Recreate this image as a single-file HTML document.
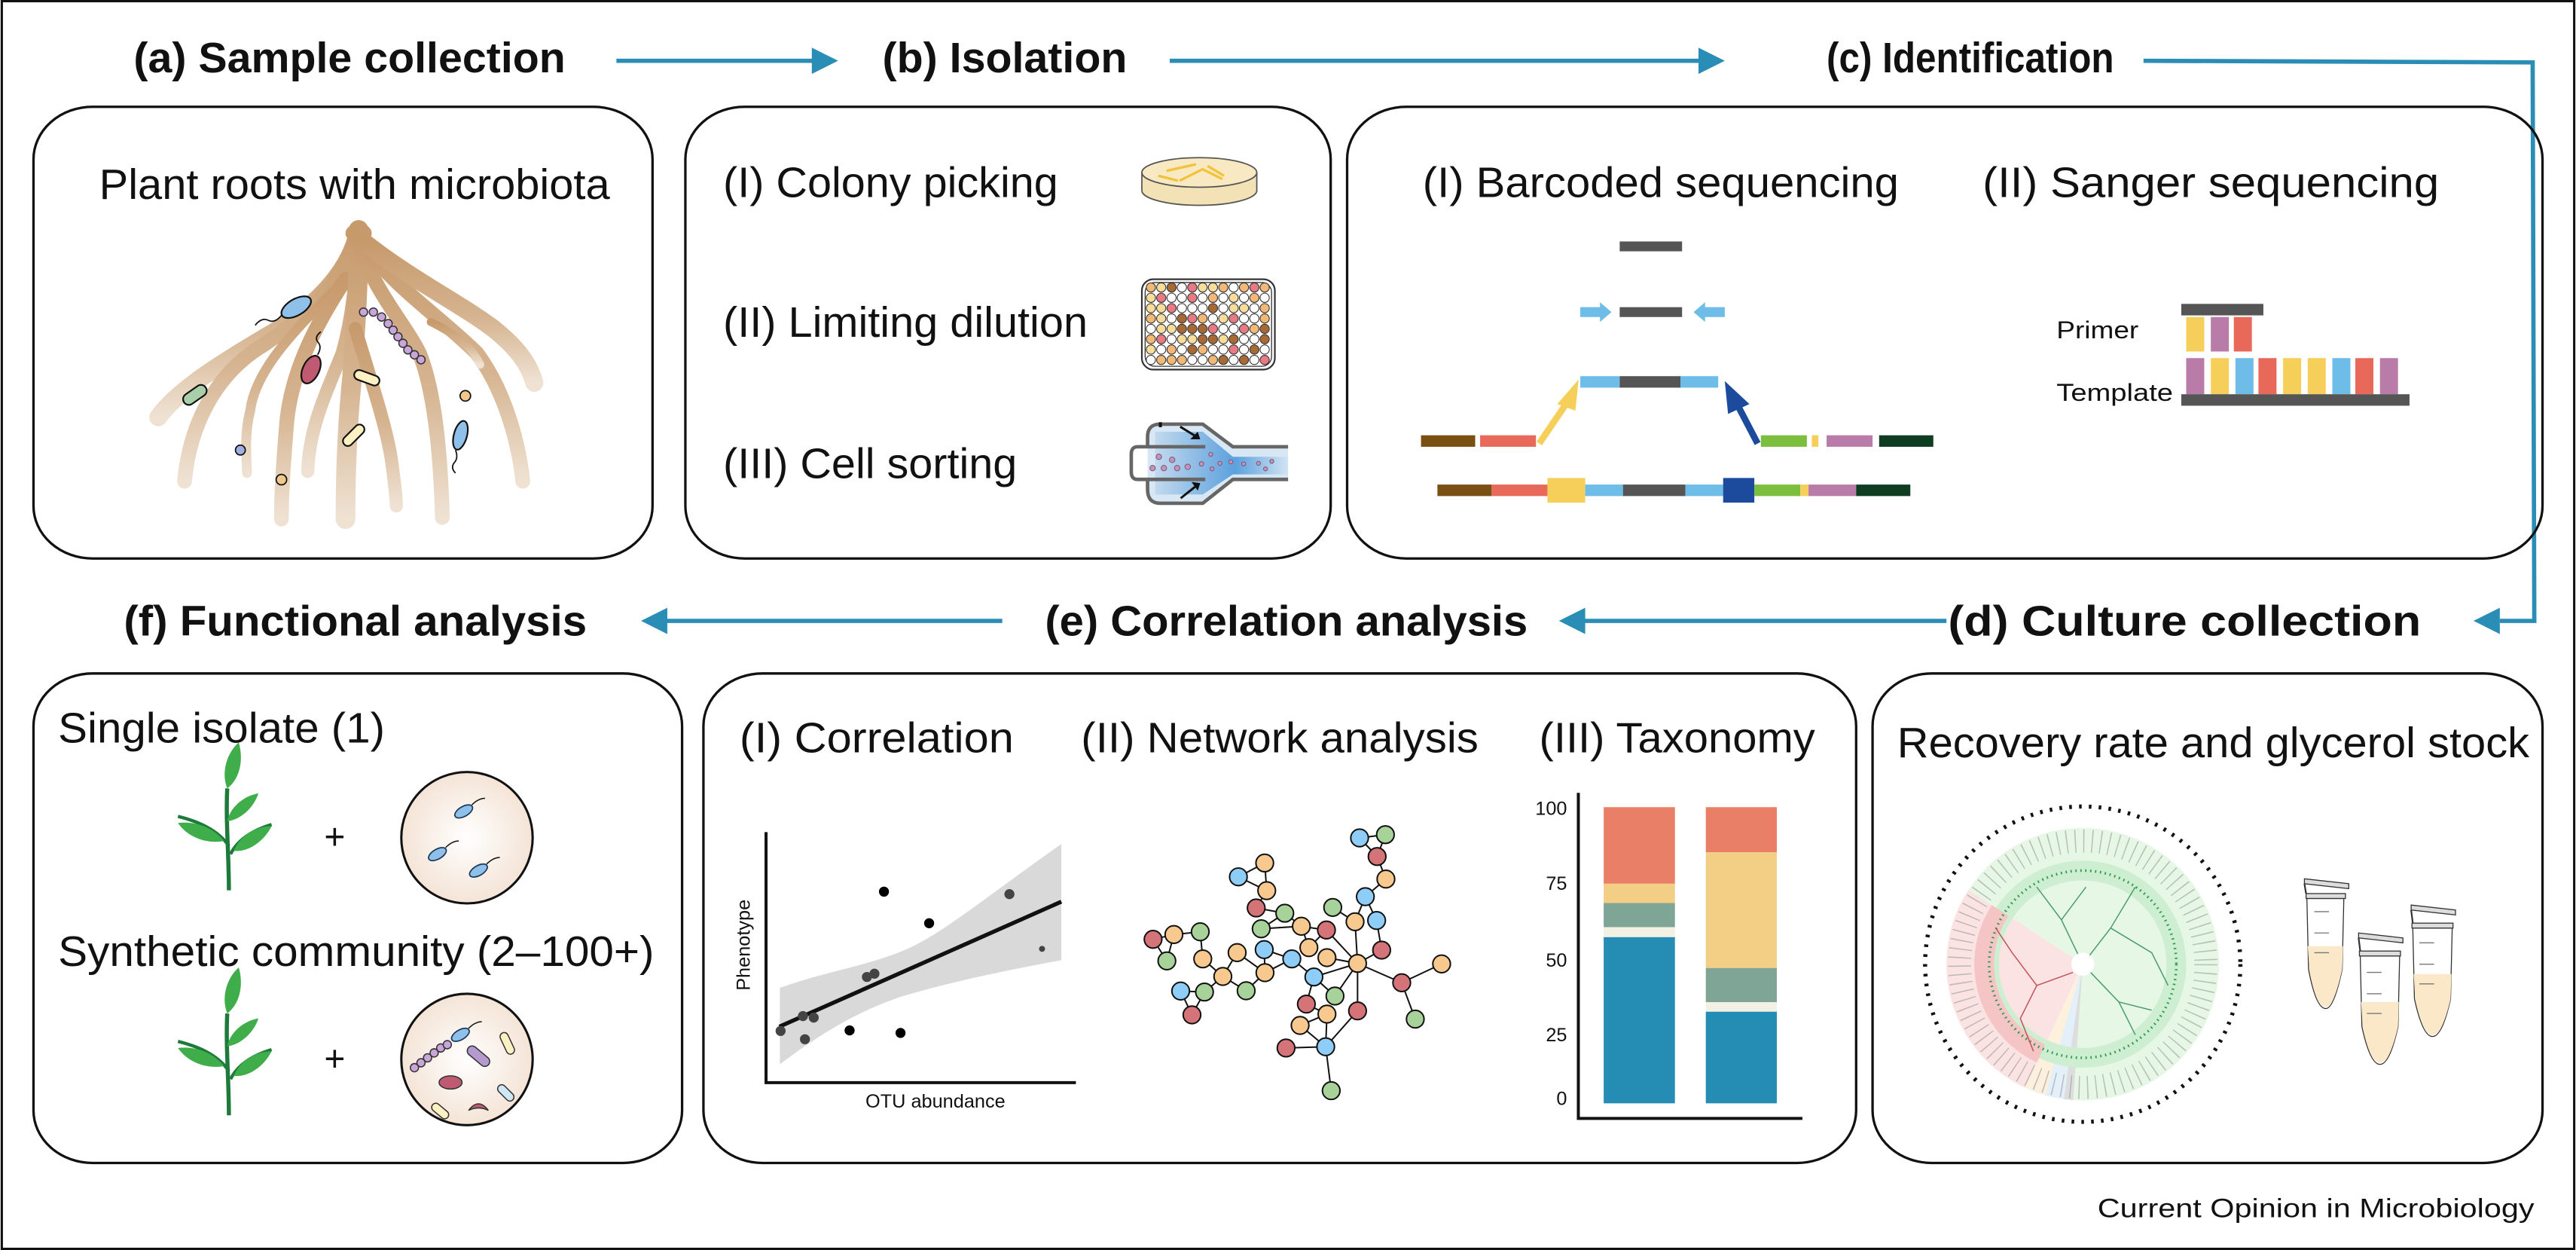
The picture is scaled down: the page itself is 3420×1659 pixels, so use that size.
<!DOCTYPE html>
<html><head><meta charset="utf-8"><style>
html,body{margin:0;padding:0;background:#fff;}
svg{display:block;}
text{font-family:"Liberation Sans",Arial,sans-serif;fill:#111;}
.t{font-weight:bold;font-size:26px;}
.s{font-size:26px;}
</style></head><body>
<svg width="3420" height="1659" viewBox="0 0 1568 761" xmlns="http://www.w3.org/2000/svg">
<defs>
<linearGradient id="rootg" x1="0" y1="0" x2="0" y2="1"><stop offset="0" stop-color="#c79a6c"/><stop offset="0.55" stop-color="#d6b592"/><stop offset="1" stop-color="#efe2d3"/></linearGradient>
<radialGradient id="dishg"><stop offset="0" stop-color="#fff"/><stop offset="1" stop-color="#f4e4d6"/></radialGradient>
<linearGradient id="sortg" x1="0" y1="0" x2="1" y2="0"><stop offset="0" stop-color="#bcd6ec"/><stop offset="0.6" stop-color="#3d8fd8"/><stop offset="1" stop-color="#cfe3f2"/></linearGradient>
</defs>
<rect x="0" y="0" width="1568" height="761" fill="#fff"/>
<rect x="0.7" y="0.7" width="1566.6" height="759.6" fill="none" stroke="#111" stroke-width="1.4"/>

<!-- Titles -->
<text class="t" x="81" y="44" textLength="263" lengthAdjust="spacingAndGlyphs">(a) Sample collection</text>
<text class="t" x="537" y="44" textLength="149" lengthAdjust="spacingAndGlyphs">(b) Isolation</text>
<text class="t" x="1112" y="44" textLength="175" lengthAdjust="spacingAndGlyphs">(c) Identification</text>
<text class="t" x="75" y="387" textLength="282" lengthAdjust="spacingAndGlyphs">(f) Functional analysis</text>
<text class="t" x="636" y="387" textLength="294" lengthAdjust="spacingAndGlyphs">(e) Correlation analysis</text>
<text class="t" x="1186" y="387" textLength="288" lengthAdjust="spacingAndGlyphs">(d) Culture collection</text>

<!-- Arrows -->
<g stroke="#2a8db5" stroke-width="2.6" fill="none">
<line x1="375" y1="37" x2="497" y2="37"/>
<line x1="712" y1="37" x2="1037" y2="37"/>
<polyline points="1305,37 1542,38 1543,378 1522,378"/>
<line x1="1185" y1="378" x2="962" y2="378"/>
<line x1="610" y1="378" x2="403" y2="378"/>
</g>
<g fill="#2a8db5">
<polygon points="494,29 510,37 494,45"/>
<polygon points="1034,29 1050,37 1034,45"/>
<polygon points="1522,370 1506,378 1522,386"/>
<polygon points="965,370 949,378 965,386"/>
<polygon points="406,370 390,378 406,386"/>
</g>

<!-- Boxes -->
<g fill="none" stroke="#111" stroke-width="1.5">
<rect x="20" y="65" width="377" height="275" rx="36" ry="32"/>
<rect x="417" y="65" width="393" height="275" rx="36" ry="32"/>
<rect x="820" y="65" width="728" height="275" rx="36" ry="32"/>
<rect x="20" y="410" width="395" height="298" rx="36" ry="32"/>
<rect x="428" y="410" width="702" height="298" rx="36" ry="32"/>
<rect x="1140" y="410" width="408" height="298" rx="36" ry="32"/>
</g>

<!-- Box a -->
<text class="s" x="60" y="121" textLength="311" lengthAdjust="spacingAndGlyphs">Plant roots with microbiota</text>
<g stroke="url(#rootg)" fill="none" stroke-linecap="round">
<path d="M218,140 C214,160 200,180 170,200 C140,218 110,235 96,254" stroke-width="11"/>
<path d="M218,140 C210,170 190,190 160,210 C130,228 115,260 112,293" stroke-width="9"/>
<path d="M205,175 C180,200 155,225 152,250 C148,265 150,280 150,288" stroke-width="6"/>
<path d="M210,170 C190,200 176,230 174,260 C172,285 171,300 171,316" stroke-width="9"/>
<path d="M218,140 C216,170 215,190 208,215 C198,240 188,260 187,287" stroke-width="8"/>
<path d="M218,140 C218,175 216,200 214,230 C211,260 210,290 210,316" stroke-width="12"/>
<path d="M216,200 C225,230 235,260 238,280 C240,295 241,303 241,308" stroke-width="8"/>
<path d="M218,145 C225,175 245,195 255,215 C265,240 268,280 269,315" stroke-width="9"/>
<path d="M222,150 C240,175 270,195 290,215 C305,235 315,265 318,293" stroke-width="9"/>
<path d="M222,148 C250,170 280,185 300,200 C315,212 322,222 325,233" stroke-width="11"/>
<path d="M262,196 C280,205 288,213 292,222" stroke-width="5"/>
</g>
<ellipse cx="218" cy="142" rx="8" ry="6" fill="#c79a6c"/>
<ellipse cx="180" cy="187" rx="10" ry="5" transform="rotate(-30 180 187)" fill="#8fc0ea" stroke="#111" stroke-width="1"/>
<path d="M171,192 q-4,5 -8,3 q-4,-2 -8,3" fill="none" stroke="#111" stroke-width="0.8"/>
<rect x="110" y="237" width="16" height="7" rx="3.5" transform="rotate(-35 118 240)" fill="#a8cfa9" stroke="#111" stroke-width="1"/>
<ellipse cx="189" cy="225" rx="5" ry="9" transform="rotate(25 189 225)" fill="#c05a72" stroke="#111" stroke-width="1"/>
<path d="M193,216 q3,-5 0,-8 q-2,-3 2,-6" fill="none" stroke="#111" stroke-width="0.8"/>
<rect x="215" y="227" width="16" height="6" rx="3" transform="rotate(20 223 230)" fill="#fdf1c4" stroke="#111" stroke-width="1"/>
<rect x="207" y="262" width="16" height="6" rx="3" transform="rotate(-45 215 265)" fill="#fdf1c4" stroke="#111" stroke-width="1"/>
<g fill="#c8a6d9" stroke="#333" stroke-width="0.7">
<circle cx="221" cy="190" r="2.5"/><circle cx="227" cy="190" r="2.5"/><circle cx="232" cy="193" r="2.5"/><circle cx="236" cy="197" r="2.5"/><circle cx="239" cy="201" r="2.5"/><circle cx="242" cy="205" r="2.5"/><circle cx="245" cy="209" r="2.5"/><circle cx="248" cy="213" r="2.5"/><circle cx="252" cy="216" r="2.5"/><circle cx="256" cy="219" r="2.5"/>
</g>
<circle cx="146" cy="274" r="3" fill="#9fb0e0" stroke="#111" stroke-width="0.8"/>
<circle cx="171" cy="292" r="3.2" fill="#f1c88c" stroke="#111" stroke-width="0.8"/>
<circle cx="283" cy="241" r="3.2" fill="#f1c88c" stroke="#111" stroke-width="0.8"/>
<ellipse cx="280" cy="265" rx="4" ry="9" transform="rotate(15 280 265)" fill="#8fc0ea" stroke="#111" stroke-width="1"/>
<path d="M277,274 q2,5 -1,8 q-2,3 1,6" fill="none" stroke="#111" stroke-width="0.8"/>

<!-- Box b -->
<text class="s" x="440" y="120" textLength="204" lengthAdjust="spacingAndGlyphs">(I) Colony picking</text>
<text class="s" x="440" y="205" textLength="222" lengthAdjust="spacingAndGlyphs">(II) Limiting dilution</text>
<text class="s" x="440" y="291" textLength="179" lengthAdjust="spacingAndGlyphs">(III) Cell sorting</text>
<path d="M695,105 L695,116 A35,9 0 0 0 765,116 L765,105" fill="#f3e2b6" stroke="#555" stroke-width="0.8"/>
<ellipse cx="730" cy="105" rx="35" ry="9" fill="#f9e9c2" stroke="#555" stroke-width="0.8"/>
<path d="M710,104 l18,-4 M718,110 l14,-7 l12,6 M735,101 l10,6 M705,107 l12,3" stroke="#f2c23a" stroke-width="1.5" fill="none"/>
<rect x="695" y="170" width="81" height="55" rx="7" fill="#fff" stroke="#333" stroke-width="1"/>
<rect x="697" y="172" width="77" height="51" rx="6" fill="none" stroke="#333" stroke-width="0.6"/>
<g stroke="#333" stroke-width="0.5">
<g transform="translate(700.5 175)">
<circle cx="0" cy="0" r="2.8" fill="#f1b877"/><circle cx="6.3" cy="0" r="2.8" fill="#f7dd9c"/><circle cx="12.6" cy="0" r="2.8" fill="#a86a35"/><circle cx="18.9" cy="0" r="2.8" fill="#fff"/><circle cx="25.2" cy="0" r="2.8" fill="#e87a84"/><circle cx="31.5" cy="0" r="2.8" fill="#f7dd9c"/><circle cx="37.8" cy="0" r="2.8" fill="#f7dd9c"/><circle cx="44.1" cy="0" r="2.8" fill="#f1b877"/><circle cx="50.4" cy="0" r="2.8" fill="#fff"/><circle cx="56.7" cy="0" r="2.8" fill="#f1b877"/><circle cx="63" cy="0" r="2.8" fill="#e87a84"/><circle cx="69.3" cy="0" r="2.8" fill="#f1b877"/>
<circle cx="0" cy="6.3" r="2.8" fill="#f7dd9c"/><circle cx="6.3" cy="6.3" r="2.8" fill="#e87a84"/><circle cx="12.6" cy="6.3" r="2.8" fill="#fff"/><circle cx="18.9" cy="6.3" r="2.8" fill="#fff"/><circle cx="25.2" cy="6.3" r="2.8" fill="#e87a84"/><circle cx="31.5" cy="6.3" r="2.8" fill="#fff"/><circle cx="37.8" cy="6.3" r="2.8" fill="#f1b877"/><circle cx="44.1" cy="6.3" r="2.8" fill="#fff"/><circle cx="50.4" cy="6.3" r="2.8" fill="#f7dd9c"/><circle cx="56.7" cy="6.3" r="2.8" fill="#fff"/><circle cx="63" cy="6.3" r="2.8" fill="#f1b877"/><circle cx="69.3" cy="6.3" r="2.8" fill="#fff"/>
<circle cx="0" cy="12.6" r="2.8" fill="#f7dd9c"/><circle cx="6.3" cy="12.6" r="2.8" fill="#f7dd9c"/><circle cx="12.6" cy="12.6" r="2.8" fill="#e87a84"/><circle cx="18.9" cy="12.6" r="2.8" fill="#fff"/><circle cx="25.2" cy="12.6" r="2.8" fill="#fff"/><circle cx="31.5" cy="12.6" r="2.8" fill="#fff"/><circle cx="37.8" cy="12.6" r="2.8" fill="#a86a35"/><circle cx="44.1" cy="12.6" r="2.8" fill="#fff"/><circle cx="50.4" cy="12.6" r="2.8" fill="#f7dd9c"/><circle cx="56.7" cy="12.6" r="2.8" fill="#f7dd9c"/><circle cx="63" cy="12.6" r="2.8" fill="#fff"/><circle cx="69.3" cy="12.6" r="2.8" fill="#f1b877"/>
<circle cx="0" cy="18.9" r="2.8" fill="#f1b877"/><circle cx="6.3" cy="18.9" r="2.8" fill="#f7dd9c"/><circle cx="12.6" cy="18.9" r="2.8" fill="#fff"/><circle cx="18.9" cy="18.9" r="2.8" fill="#a86a35"/><circle cx="25.2" cy="18.9" r="2.8" fill="#e87a84"/><circle cx="31.5" cy="18.9" r="2.8" fill="#f1b877"/><circle cx="37.8" cy="18.9" r="2.8" fill="#fff"/><circle cx="44.1" cy="18.9" r="2.8" fill="#f7dd9c"/><circle cx="50.4" cy="18.9" r="2.8" fill="#e87a84"/><circle cx="56.7" cy="18.9" r="2.8" fill="#fff"/><circle cx="63" cy="18.9" r="2.8" fill="#fff"/><circle cx="69.3" cy="18.9" r="2.8" fill="#f1b877"/>
<circle cx="0" cy="25.2" r="2.8" fill="#fff"/><circle cx="6.3" cy="25.2" r="2.8" fill="#f7dd9c"/><circle cx="12.6" cy="25.2" r="2.8" fill="#f7dd9c"/><circle cx="18.9" cy="25.2" r="2.8" fill="#a86a35"/><circle cx="25.2" cy="25.2" r="2.8" fill="#a86a35"/><circle cx="31.5" cy="25.2" r="2.8" fill="#a86a35"/><circle cx="37.8" cy="25.2" r="2.8" fill="#e87a84"/><circle cx="44.1" cy="25.2" r="2.8" fill="#fff"/><circle cx="50.4" cy="25.2" r="2.8" fill="#fff"/><circle cx="56.7" cy="25.2" r="2.8" fill="#e87a84"/><circle cx="63" cy="25.2" r="2.8" fill="#f1b877"/><circle cx="69.3" cy="25.2" r="2.8" fill="#a86a35"/>
<circle cx="0" cy="31.5" r="2.8" fill="#f1b877"/><circle cx="6.3" cy="31.5" r="2.8" fill="#e87a84"/><circle cx="12.6" cy="31.5" r="2.8" fill="#fff"/><circle cx="18.9" cy="31.5" r="2.8" fill="#f7dd9c"/><circle cx="25.2" cy="31.5" r="2.8" fill="#f7dd9c"/><circle cx="31.5" cy="31.5" r="2.8" fill="#a86a35"/><circle cx="37.8" cy="31.5" r="2.8" fill="#a86a35"/><circle cx="44.1" cy="31.5" r="2.8" fill="#f7dd9c"/><circle cx="50.4" cy="31.5" r="2.8" fill="#a86a35"/><circle cx="56.7" cy="31.5" r="2.8" fill="#fff"/><circle cx="63" cy="31.5" r="2.8" fill="#fff"/><circle cx="69.3" cy="31.5" r="2.8" fill="#a86a35"/>
<circle cx="0" cy="37.8" r="2.8" fill="#f7dd9c"/><circle cx="6.3" cy="37.8" r="2.8" fill="#fff"/><circle cx="12.6" cy="37.8" r="2.8" fill="#f1b877"/><circle cx="18.9" cy="37.8" r="2.8" fill="#fff"/><circle cx="25.2" cy="37.8" r="2.8" fill="#a86a35"/><circle cx="31.5" cy="37.8" r="2.8" fill="#f1b877"/><circle cx="37.8" cy="37.8" r="2.8" fill="#fff"/><circle cx="44.1" cy="37.8" r="2.8" fill="#fff"/><circle cx="50.4" cy="37.8" r="2.8" fill="#e87a84"/><circle cx="56.7" cy="37.8" r="2.8" fill="#fff"/><circle cx="63" cy="37.8" r="2.8" fill="#a86a35"/><circle cx="69.3" cy="37.8" r="2.8" fill="#fff"/>
<circle cx="0" cy="44.1" r="2.8" fill="#fff"/><circle cx="6.3" cy="44.1" r="2.8" fill="#f1b877"/><circle cx="12.6" cy="44.1" r="2.8" fill="#f1b877"/><circle cx="18.9" cy="44.1" r="2.8" fill="#f1b877"/><circle cx="25.2" cy="44.1" r="2.8" fill="#fff"/><circle cx="31.5" cy="44.1" r="2.8" fill="#fff"/><circle cx="37.8" cy="44.1" r="2.8" fill="#f1b877"/><circle cx="44.1" cy="44.1" r="2.8" fill="#a86a35"/><circle cx="50.4" cy="44.1" r="2.8" fill="#fff"/><circle cx="56.7" cy="44.1" r="2.8" fill="#a86a35"/><circle cx="63" cy="44.1" r="2.8" fill="#fff"/><circle cx="69.3" cy="44.1" r="2.8" fill="#e87a84"/>
</g></g>
<!-- sorter -->
<g transform="translate(683.2 146.7) scale(0.1528)">
<path d="M150,730 L320,730 L440,820 L660,820 L660,950 L440,950 L320,1045 L150,1045 Q100,1045 100,990 L100,780 Q100,730 150,730 Z" fill="#d8e7f4"/>
<path d="M130,760 L320,760 L440,860 L660,860 L660,930 L440,930 L320,1010 L130,1010 Z" fill="url(#sortg)" opacity="0.8"/>
<path d="M150,730 L320,730 L440,820 L660,820 M660,950 L440,950 L320,1045 L150,1045 Q100,1045 100,990 L100,950 M100,820 L100,780 Q100,730 150,730" fill="none" stroke="#666" stroke-width="14"/>
<path d="M330,820 L60,820 Q35,820 35,850 L35,920 Q35,950 60,950 L330,950" fill="none" stroke="#666" stroke-width="14"/>
<g fill="#c593b6" stroke="#7a557a" stroke-width="3"><circle cx="145" cy="860" r="11"/><circle cx="198" cy="872" r="11"/><circle cx="120" cy="905" r="11"/><circle cx="165" cy="905" r="11"/><circle cx="218" cy="905" r="11"/><circle cx="260" cy="900" r="11"/><circle cx="315" cy="888" r="9"/><circle cx="352" cy="850" r="8"/><circle cx="357" cy="908" r="8"/><circle cx="388" cy="886" r="8"/><circle cx="432" cy="880" r="8"/><circle cx="483" cy="888" r="8"/><circle cx="542" cy="886" r="8"/><circle cx="570" cy="908" r="8"/><circle cx="595" cy="878" r="8"/></g>
<path d="M230,740 L295,780 M232,1025 L295,975" stroke="#111" stroke-width="9"/>
<polygon points="310,790 270,790 300,760" fill="#111"/><polygon points="310,965 275,960 300,995" fill="#111"/>
<rect x="145" y="722" width="12" height="20" fill="#111"/>
</g>

<!-- Box c -->
<text class="s" x="866" y="120" textLength="290" lengthAdjust="spacingAndGlyphs">(I) Barcoded sequencing</text>
<text class="s" x="1207" y="120" textLength="278" lengthAdjust="spacingAndGlyphs">(II) Sanger sequencing</text>
<rect x="986" y="147" width="38" height="6" fill="#555"/>
<rect x="986" y="187" width="38" height="6" fill="#555"/>
<polygon points="962,187 974,187 974,184 981,190 974,196 974,193 962,193" fill="#6dbde8"/>
<polygon points="1050,187 1038,187 1038,184 1031,190 1038,196 1038,193 1050,193" fill="#6dbde8"/>
<rect x="962" y="229" width="24" height="7" fill="#6dbde8"/><rect x="986" y="229" width="37" height="7" fill="#555"/><rect x="1023" y="229" width="23" height="7" fill="#6dbde8"/>
<line x1="937" y1="270" x2="954" y2="245" stroke="#f5cf5a" stroke-width="4"/>
<polygon points="961,231 948,246 959,250" fill="#f5cf5a"/>
<line x1="1070" y1="270" x2="1058" y2="247" stroke="#1c4a9c" stroke-width="4"/>
<polygon points="1050,232 1065,246 1052,252" fill="#1c4a9c"/>
<rect x="865" y="265" width="33" height="7" fill="#7a5012"/><rect x="901" y="265" width="34" height="7" fill="#e8685a"/>
<rect x="1072" y="265" width="28" height="7" fill="#7cbf3e"/><rect x="1103" y="265" width="4" height="7" fill="#f5cf5a"/><rect x="1112" y="265" width="28" height="7" fill="#b97ca8"/><rect x="1144" y="265" width="33" height="7" fill="#0f3d22"/>
<rect x="875" y="295" width="33" height="7" fill="#7a5012"/><rect x="908" y="295" width="34" height="7" fill="#e8685a"/><rect x="942" y="291" width="23" height="15" fill="#f5cf5a"/><rect x="965" y="295" width="23" height="7" fill="#6dbde8"/><rect x="988" y="295" width="38" height="7" fill="#555"/><rect x="1026" y="295" width="23" height="7" fill="#6dbde8"/><rect x="1049" y="291" width="19" height="15" fill="#1c4a9c"/><rect x="1068" y="295" width="28" height="7" fill="#7cbf3e"/><rect x="1096" y="295" width="5" height="7" fill="#f5cf5a"/><rect x="1101" y="295" width="29" height="7" fill="#b97ca8"/><rect x="1130" y="295" width="33" height="7" fill="#0f3d22"/>
<text x="1252" y="206" font-size="15" textLength="50" lengthAdjust="spacingAndGlyphs">Primer</text>
<text x="1252" y="244" font-size="15" textLength="71" lengthAdjust="spacingAndGlyphs">Template</text>
<rect x="1328" y="185" width="50" height="7" fill="#555"/>
<rect x="1331" y="193" width="11" height="21" fill="#f5cf5a"/><rect x="1346" y="193" width="11" height="21" fill="#b97ca8"/><rect x="1360" y="193" width="11" height="21" fill="#e8685a"/>
<g>
<rect x="1331" y="218" width="11" height="22" fill="#b97ca8"/><rect x="1346" y="218" width="11" height="22" fill="#f5cf5a"/><rect x="1361" y="218" width="11" height="22" fill="#6dbde8"/><rect x="1375" y="218" width="11" height="22" fill="#e8685a"/><rect x="1390" y="218" width="11" height="22" fill="#f5cf5a"/><rect x="1405" y="218" width="11" height="22" fill="#f5cf5a"/><rect x="1420" y="218" width="11" height="22" fill="#6dbde8"/><rect x="1434" y="218" width="11" height="22" fill="#e8685a"/><rect x="1449" y="218" width="11" height="22" fill="#b97ca8"/>
</g>
<rect x="1328" y="240" width="139" height="7" fill="#555"/>

<!-- Box f -->
<text class="s" x="35" y="452" textLength="199" lengthAdjust="spacingAndGlyphs">Single isolate (1)</text>
<text class="s" x="35" y="588" textLength="363" lengthAdjust="spacingAndGlyphs">Synthetic community (2–100+)</text>
<g id="plant">
<path d="M139,542 C139,520 137,500 138,480" stroke="#1d7a3a" stroke-width="2.5" fill="none"/>
<path d="M139,515 C132,505 120,500 108,497" stroke="#1d7a3a" stroke-width="2" fill="none"/>
<path d="M140,520 C145,510 155,505 165,502" stroke="#1d7a3a" stroke-width="2" fill="none"/>
<path d="M138,480 C134,470 138,458 145,452 C148,462 146,474 138,480 Z" fill="#3fae4a"/>
<path d="M138,500 C140,490 150,484 157,483 C154,492 146,499 138,500 Z" fill="#3fae4a"/>
<path d="M136,512 C128,502 116,500 108,501 C114,510 126,514 136,512 Z" fill="#3fae4a"/>
<path d="M142,518 C146,508 156,503 165,503 C160,513 150,519 142,518 Z" fill="#3fae4a"/>
</g>
<use href="#plant" transform="translate(0 137)"/>
<text x="197" y="517" font-size="22">+</text>
<text x="197" y="652" font-size="22">+</text>
<circle cx="284" cy="510" r="40" fill="url(#dishg)" stroke="#111" stroke-width="1.4"/>
<circle cx="284" cy="645" r="40" fill="url(#dishg)" stroke="#111" stroke-width="1.4"/>
<g fill="#8fc0ea" stroke="#1a3a5a" stroke-width="0.8">
<ellipse cx="282" cy="494" rx="6" ry="3" transform="rotate(-30 282 494)"/>
<ellipse cx="266" cy="520" rx="6" ry="3" transform="rotate(-30 266 520)"/>
<ellipse cx="291" cy="530" rx="6" ry="3" transform="rotate(-30 291 530)"/>
<ellipse cx="280" cy="630" rx="6" ry="3" transform="rotate(-30 280 630)"/>
</g>
<path d="M287,490 q4,-4 8,-4 M271,516 q4,-4 8,-4 M296,526 q4,-4 8,-4 M285,626 q4,-4 8,-4" stroke="#111" stroke-width="0.7" fill="none"/>
<g stroke="#333" stroke-width="0.7">
<g fill="#c8a6d9"><circle cx="252" cy="650" r="2.5"/><circle cx="256" cy="647" r="2.5"/><circle cx="260" cy="644" r="2.5"/><circle cx="264" cy="641" r="2.5"/><circle cx="268" cy="638" r="2.5"/><circle cx="272" cy="636" r="2.5"/></g>
<rect x="283" y="640" width="16" height="6" rx="3" transform="rotate(40 291 643)" fill="#b59ad0"/>
<rect x="302" y="633" width="14" height="5" rx="2.5" transform="rotate(65 309 635)" fill="#fdf1c4"/>
<ellipse cx="274" cy="659" rx="7" ry="4" fill="#c05a72"/>
<rect x="302" y="663" width="12" height="5" rx="2.5" transform="rotate(45 308 665)" fill="#cfe6f4"/>
<rect x="262" y="674" width="12" height="5" rx="2.5" transform="rotate(40 268 676)" fill="#fdf1c4"/>
<path d="M285,676 q6,-8 12,0 q-6,-3 -12,0z" fill="#c05a72"/>
</g>

<!-- Box e -->
<text class="s" x="450" y="458" textLength="167" lengthAdjust="spacingAndGlyphs">(I) Correlation</text>
<text class="s" x="658" y="458" textLength="242" lengthAdjust="spacingAndGlyphs">(II) Network analysis</text>
<text class="s" x="937" y="458" textLength="168" lengthAdjust="spacingAndGlyphs">(III) Taxonomy</text>
<g transform="translate(426.4 481.4) scale(0.1528)">
<path d="M315,785 C500,720 650,700 800,640 C950,580 1100,450 1437,212 L1437,675 C1200,720 1000,760 800,820 C650,870 500,950 315,1090 Z" fill="#d9d9d9"/>
<line x1="313" y1="940" x2="1437" y2="442" stroke="#111" stroke-width="16"/>
<g fill="#444"><circle cx="318" cy="957" r="20"/><circle cx="407" cy="898" r="20"/><circle cx="450" cy="904" r="20"/><circle cx="415" cy="990" r="20"/><circle cx="662" cy="742" r="20"/><circle cx="692" cy="729" r="20"/><circle cx="1230" cy="412" r="20"/><circle cx="1360" cy="630" r="12"/></g>
<g fill="#000"><circle cx="593" cy="955" r="20"/><circle cx="796" cy="965" r="20"/><circle cx="730" cy="402" r="20"/><circle cx="910" cy="528" r="20"/></g>
<polyline points="260,165 260,1163 1495,1163" fill="none" stroke="#111" stroke-width="12"/>
<text x="935" y="1262" font-size="76" text-anchor="middle">OTU abundance</text>
<text transform="translate(195 615) rotate(-90)" font-size="76" text-anchor="middle">Phenotype</text>
</g>
<g transform="translate(678.6 481.4) scale(0.1528)" stroke="#111" stroke-width="6">
<g fill="none">
<path d="M975,188 L1078,175 L1045,262 Z M1045,262 L1080,352 L998,422 L1043,517 L1063,635 L967,688 M998,422 L957,522 L967,688 M957,522 L868,465 M843,555 L967,688 M843,555 L743,540 M843,555 L773,625 M967,688 L845,665 M967,688 L793,742 M967,688 L877,818 M967,688 L967,877 M967,688 L1143,765 L1302,690 M1143,765 L1197,910 M597,288 L492,343 L605,398 Z M605,398 L563,467 L677,488 L583,550 L743,540 L773,625 M677,488 L743,540 M595,633 L598,725 L705,670 Z M705,670 L793,742 M598,725 L487,645 L430,740 L523,797 L598,725 M430,740 L350,670 L340,562 L235,573 L152,592 L207,678 L235,573 M430,740 L357,802 L262,798 L307,893 L357,802 M793,742 L877,818 M793,742 L763,850 L845,890 L738,935 L840,1020 L845,890 M967,877 L840,1020 L682,1025 M840,1020 L862,1195"/>
</g>
<g fill="#8ecdf8"><circle cx="975" cy="188" r="35"/><circle cx="998" cy="422" r="35"/><circle cx="1043" cy="517" r="35"/><circle cx="492" cy="343" r="35"/><circle cx="595" cy="633" r="35"/><circle cx="705" cy="670" r="35"/><circle cx="262" cy="798" r="35"/><circle cx="793" cy="742" r="35"/><circle cx="840" cy="1020" r="35"/></g>
<g fill="#a7d39a"><circle cx="1078" cy="175" r="35"/><circle cx="868" cy="465" r="35"/><circle cx="1197" cy="910" r="35"/><circle cx="677" cy="488" r="35"/><circle cx="583" cy="550" r="35"/><circle cx="523" cy="797" r="35"/><circle cx="340" cy="562" r="35"/><circle cx="207" cy="678" r="35"/><circle cx="357" cy="802" r="35"/><circle cx="877" cy="818" r="35"/><circle cx="862" cy="1195" r="35"/></g>
<g fill="#d47479"><circle cx="1045" cy="262" r="35"/><circle cx="843" cy="555" r="35"/><circle cx="1063" cy="635" r="35"/><circle cx="1143" cy="765" r="35"/><circle cx="563" cy="467" r="35"/><circle cx="152" cy="592" r="35"/><circle cx="307" cy="893" r="35"/><circle cx="763" cy="850" r="35"/><circle cx="967" cy="877" r="35"/><circle cx="682" cy="1025" r="35"/></g>
<g fill="#f7c98e"><circle cx="1080" cy="352" r="35"/><circle cx="957" cy="522" r="35"/><circle cx="967" cy="688" r="35"/><circle cx="1302" cy="690" r="35"/><circle cx="597" cy="288" r="35"/><circle cx="605" cy="398" r="35"/><circle cx="743" cy="540" r="35"/><circle cx="773" cy="625" r="35"/><circle cx="845" cy="665" r="35"/><circle cx="598" cy="725" r="35"/><circle cx="487" cy="645" r="35"/><circle cx="430" cy="740" r="35"/><circle cx="350" cy="670" r="35"/><circle cx="235" cy="573" r="35"/><circle cx="845" cy="890" r="35"/><circle cx="738" cy="935" r="35"/></g>
</g>
<g transform="translate(907.8 472.3) scale(0.1528)">
<rect x="448" y="125" width="284" height="305" fill="#e97f66"/><rect x="448" y="430" width="284" height="77" fill="#f2cf85"/><rect x="448" y="507" width="284" height="96" fill="#7fa596"/><rect x="448" y="603" width="284" height="40" fill="#f2f1e4"/><rect x="448" y="643" width="284" height="662" fill="#258cb4"/>
<rect x="855" y="125" width="283" height="180" fill="#e97f66"/><rect x="855" y="305" width="283" height="461" fill="#f2cf85"/><rect x="855" y="766" width="283" height="136" fill="#7fa596"/><rect x="855" y="902" width="283" height="38" fill="#f2f1e4"/><rect x="855" y="940" width="283" height="365" fill="#258cb4"/>
<polyline points="347,68 347,1365 1240,1365" fill="none" stroke="#111" stroke-width="12"/>
<g font-size="76" text-anchor="end"><text x="302" y="155">100</text><text x="302" y="455">75</text><text x="302" y="760">50</text><text x="302" y="1058">25</text><text x="302" y="1312">0</text></g>
</g>

<!-- Box d -->
<text class="s" x="1155" y="461" textLength="385" lengthAdjust="spacingAndGlyphs">Recovery rate and glycerol stock</text>
<circle cx="1268" cy="587" r="83" fill="#e6f7e6"/>
<path d="M1268,587 L1232.9,662.2 A83,83 0 0 1 1198.4,541.8 Z" fill="#fbe3e3"/>
<path d="M1268,587 L1245.1,666.8 A83,83 0 0 0 1232.9,662.2 Z" fill="#fdf0dc"/>
<path d="M1268,587 L1256.5,669.2 A83,83 0 0 0 1245.1,666.8 Z" fill="#e3f0fa"/>
<path d="M1268,587 L1262.2,669.8 A83,83 0 0 0 1256.5,669.2 Z" fill="#ddd"/>
<circle cx="1268" cy="587" r="75" fill="none" stroke="#999" stroke-width="14" stroke-dasharray="0.7 4.5" opacity="0.6"/>
<circle cx="1268" cy="587" r="57" fill="none" stroke="#cdeed0" stroke-width="12"/>
<path d="M1242.6,641.4 A60,60 0 0 1 1217.7,554.3" fill="none" stroke="#f5c4c4" stroke-width="12"/>
<circle cx="1268" cy="587" r="57" fill="none" stroke="#2e9a52" stroke-width="1.6" stroke-dasharray="0.8 2.2"/>
<g stroke="#4b9e6c" stroke-width="0.7" fill="none">
<path d="M1268,587 L1285,565 L1300,540 M1285,565 L1310,580 L1320,600 M1268,587 L1290,610 L1300,630 M1290,610 L1310,615 M1268,587 L1255,560 L1240,540 M1255,560 L1270,540"/>
</g>
<g stroke="#c0555a" stroke-width="0.7" fill="none"><path d="M1262,592 L1240,600 L1225,580 M1240,600 L1230,620 L1238,640 M1225,580 L1215,565"/></g>
<circle cx="1268" cy="587" r="7" fill="#fff"/>
<circle cx="1268" cy="587" r="96" fill="none" stroke="#111" stroke-width="2.5" stroke-dasharray="1.6 4.4"/>
<g stroke="#333" stroke-width="0.6">
<g fill="#fff">
<path d="M1404.5,547 L1427,547 L1426,590 Q1421,614 1416,614 Q1410,614 1405.5,590 Z"/>
<path d="M1437,582 L1461,582 L1460,625 Q1455,648 1449,648 Q1443,648 1438,625 Z"/>
<path d="M1469,565 L1493,565 L1492,608 Q1487,631 1481,631 Q1475,631 1470,608 Z"/>
</g>
<g fill="#fbe8c8" stroke="none">
<path d="M1405,576 L1426.5,576 L1426,590 Q1421,613 1416,613 Q1410,613 1406,590 Z"/>
<path d="M1437.5,610 L1460.5,610 L1460,625 Q1455,647 1449,647 Q1443,647 1438.5,625 Z"/>
<path d="M1469.5,593 L1492.5,593 L1492,608 Q1487,630 1481,630 Q1475,630 1470.5,608 Z"/>
</g>
<g fill="#ddd"><rect x="1404" y="544" width="24" height="3"/><rect x="1436.5" y="579" width="25" height="3"/><rect x="1468.5" y="562" width="25" height="3"/>
<polygon points="1403,535 1430,538 1430,541 1403,538"/><polygon points="1436,568 1463,571 1463,574 1436,571"/><polygon points="1468,551 1495,554 1495,557 1468,554"/></g>
<path d="M1403,538 L1404,544 M1436,571 L1437,579 M1468,554 L1469,562" fill="none" stroke-width="1"/>
<path d="M1409,555 h9 M1409,568 h9 M1409,580 h9 M1441,592 h9 M1441,605 h9 M1441,617 h9 M1473,574 h9 M1473,587 h9 M1473,599 h9" stroke="#777"/>
</g>

<text x="1543" y="741" font-size="16" text-anchor="end" textLength="266" lengthAdjust="spacingAndGlyphs">Current Opinion in Microbiology</text>
</svg>
</body></html>
